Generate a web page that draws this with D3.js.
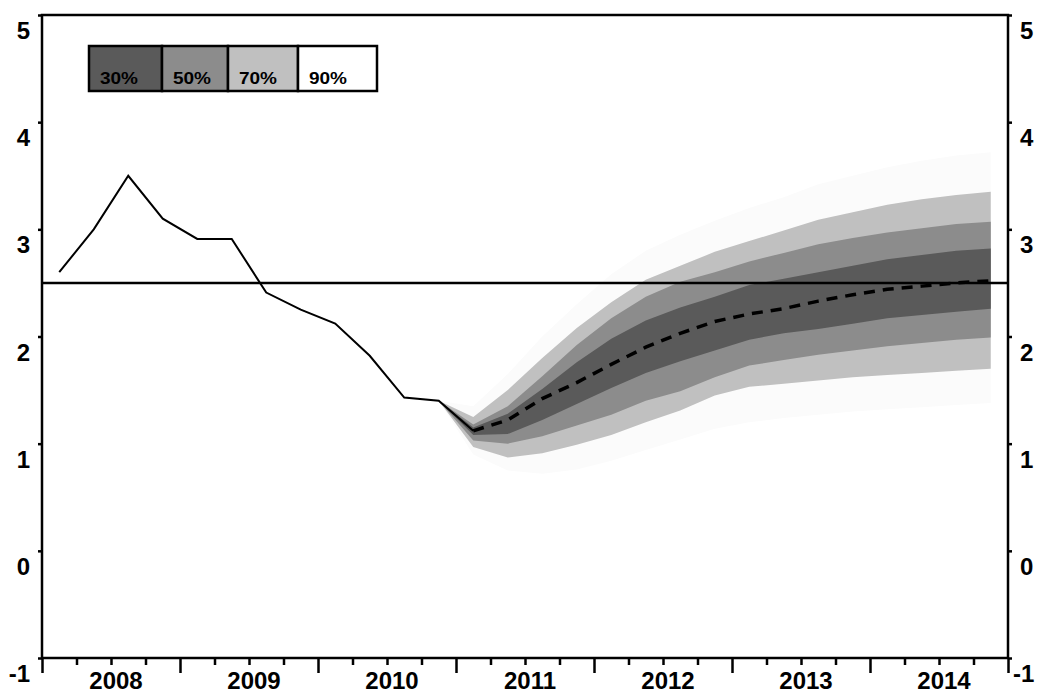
<!DOCTYPE html>
<html>
<head>
<meta charset="utf-8">
<script src="https://cdn.jsdelivr.net/npm/d3@7"></script>
<style>
body { margin: 0; background: #fff; }
svg { display: block; }
.num { font-family: "Liberation Sans", Arial, sans-serif; font-size: 24px; font-weight: bold; fill: #000; }
.leg { font-family: "Liberation Sans", Arial, sans-serif; font-size: 16px; font-weight: bold; fill: #000; }
</style>
</head>
<body>
<svg width="1037" height="695"></svg>
<script>
// dati (trimestri: indice 0 = 2008 T1)
var anni = ["2008", "2009", "2010", "2011", "2012", "2013", "2014"];
var yTicks = [-1, 0, 1, 2, 3, 4, 5];
var obiettivo = 2.5;

// storico, trimestri 0..12
var storico = [2.6, 3.0, 3.5, 3.1, 2.91, 2.91, 2.41, 2.25, 2.12, 1.82, 1.43, 1.40, 1.12];

// previsione centrale, trimestri 12..27
var mediana = [1.12, 1.22, 1.42, 1.57, 1.74, 1.90, 2.03, 2.14, 2.21, 2.26, 2.33, 2.39, 2.44, 2.47, 2.50, 2.52];

// bande del ventaglio, trimestri 11..27
var b90su = [1.40, 1.35, 1.65, 2.00, 2.30, 2.58, 2.80, 2.95, 3.08, 3.20, 3.30, 3.42, 3.50, 3.58, 3.64, 3.69, 3.72];
var b70su = [1.40, 1.25, 1.50, 1.80, 2.08, 2.32, 2.53, 2.66, 2.79, 2.89, 2.99, 3.09, 3.16, 3.23, 3.28, 3.32, 3.35];
var b50su = [1.40, 1.18, 1.35, 1.63, 1.92, 2.17, 2.37, 2.51, 2.60, 2.70, 2.78, 2.86, 2.92, 2.97, 3.01, 3.05, 3.07];
var b30su = [1.40, 1.15, 1.28, 1.51, 1.76, 1.98, 2.15, 2.27, 2.37, 2.48, 2.54, 2.60, 2.66, 2.72, 2.76, 2.80, 2.82];
var b30giu = [1.40, 1.08, 1.09, 1.22, 1.37, 1.52, 1.66, 1.77, 1.87, 1.97, 2.03, 2.07, 2.12, 2.17, 2.20, 2.23, 2.26];
var b50giu = [1.40, 1.03, 1.00, 1.07, 1.17, 1.27, 1.40, 1.49, 1.62, 1.73, 1.78, 1.83, 1.87, 1.91, 1.94, 1.97, 1.99];
var b70giu = [1.40, 0.97, 0.87, 0.91, 0.99, 1.08, 1.20, 1.31, 1.45, 1.53, 1.56, 1.59, 1.62, 1.64, 1.66, 1.68, 1.70];
var b90giu = [1.40, 0.90, 0.75, 0.72, 0.76, 0.84, 0.94, 1.04, 1.14, 1.20, 1.24, 1.27, 1.30, 1.32, 1.34, 1.36, 1.38];

var legenda = ["30%", "50%", "70%", "90%"];
var coloriBande = ["#5a5a5a", "#8c8c8c", "#c0c0c0", "#fbfbfb"];

var svg = d3.select("svg");
var sx = 42, dx = 1008, su = 15, giu = 658;

var x = d3.scaleLinear().domain([0, 28]).range([sx, dx]);
var y = d3.scaleLinear().domain([-1, 5]).range([giu, su]);

// ventaglio
var bande = [
	{ su: b90su, giu: b90giu, c: coloriBande[3] },
	{ su: b70su, giu: b70giu, c: coloriBande[2] },
	{ su: b50su, giu: b50giu, c: coloriBande[1] },
	{ su: b30su, giu: b30giu, c: coloriBande[0] }
];
var area = d3.area()
	.x(function(d, i) { return x(11 + i + 0.5); })
	.y0(function(d) { return y(d[0]); })
	.y1(function(d) { return y(d[1]); });

bande.forEach(function(b) {
	var pts = b.su.map(function(v, i) { return [b.giu[i], v]; });
	svg.append("path")
		.attr("d", area(pts))
		.attr("fill", b.c);
});

// linea obiettivo
svg.append("line")
	.attr("x1", x(0)).attr("x2", x(28))
	.attr("y1", y(obiettivo)).attr("y2", y(obiettivo))
	.attr("stroke", "#000").attr("stroke-width", 2.5);

// storico
var linea = d3.line()
	.x(function(d) { return x(d.k + 0.5); })
	.y(function(d) { return y(d.v); });

svg.append("path")
	.attr("d", linea(storico.map(function(v, i) { return { k: i, v: v }; })))
	.attr("fill", "none").attr("stroke", "#000").attr("stroke-width", 2);

svg.append("path")
	.attr("d", linea(mediana.map(function(v, i) { return { k: 12 + i, v: v }; })))
	.attr("fill", "none").attr("stroke", "#000").attr("stroke-width", 3.5)
	.style("stroke-dasharray", "11, 8");

// cornice
svg.append("rect")
	.attr("x", sx).attr("y", su)
	.attr("width", dx - sx).attr("height", giu - su)
	.attr("fill", "none").attr("stroke", "#000").attr("stroke-width", 2.5);

// assi y
var assey = svg.append("g").attr("transform", "translate(" + sx + ",0)")
	.call(d3.axisLeft(y).tickValues(yTicks).tickSize(4).tickFormat(""));
var assey2 = svg.append("g").attr("transform", "translate(" + dx + ",0)")
	.call(d3.axisRight(y).tickValues(yTicks).tickSize(4).tickFormat(""));
[assey, assey2].forEach(function(a) {
	a.select(".domain").remove();
	a.selectAll("line").attr("stroke-width", 2.5);
});

svg.selectAll(".ysx").data(yTicks).enter().append("text")
	.attr("class", "num")
	.attr("x", 30).attr("y", function(d) { return y(d) + 24; })
	.attr("text-anchor", "end")
	.text(function(d) { return d; });
svg.selectAll(".ydx").data(yTicks).enter().append("text")
	.attr("class", "num")
	.attr("x", function(d) { return d < 0 ? 1013 : 1020; })
	.attr("y", function(d) { return y(d) + 24; })
	.text(function(d) { return d; });

// asse x, tacche trimestrali
var asseX = svg.append("g").attr("transform", "translate(0," + giu + ")")
	.call(d3.axisBottom(x).tickValues(d3.range(0, 29)).tickSize(7).tickFormat(""));
asseX.select(".domain").remove();
asseX.selectAll("line")
	.attr("stroke-width", 2.5)
	.attr("y2", function(d) { return d % 4 == 0 ? 15 : 7; });

svg.selectAll(".anno").data(anni).enter().append("text")
	.attr("class", "num")
	.attr("x", function(d, i) { return x(i * 4 + 2) + 5; })
	.attr("y", 689)
	.attr("text-anchor", "middle")
	.text(function(d) { return d; });

// legenda
var bordi = [89, 162, 228, 298, 377];
var leg = svg.append("g");
legenda.forEach(function(t, i) {
	leg.append("rect")
		.attr("x", bordi[i]).attr("y", 46)
		.attr("width", bordi[i + 1] - bordi[i]).attr("height", 45)
		.attr("fill", i == 3 ? "#fff" : coloriBande[i])
		.attr("stroke", "#000").attr("stroke-width", 2.5);
	leg.append("text")
		.attr("class", "leg")
		.attr("x", bordi[i] + 11).attr("y", 84)
		.attr("textLength", 38).attr("lengthAdjust", "spacingAndGlyphs")
		.text(t);
});
</script>
</body>
</html>
